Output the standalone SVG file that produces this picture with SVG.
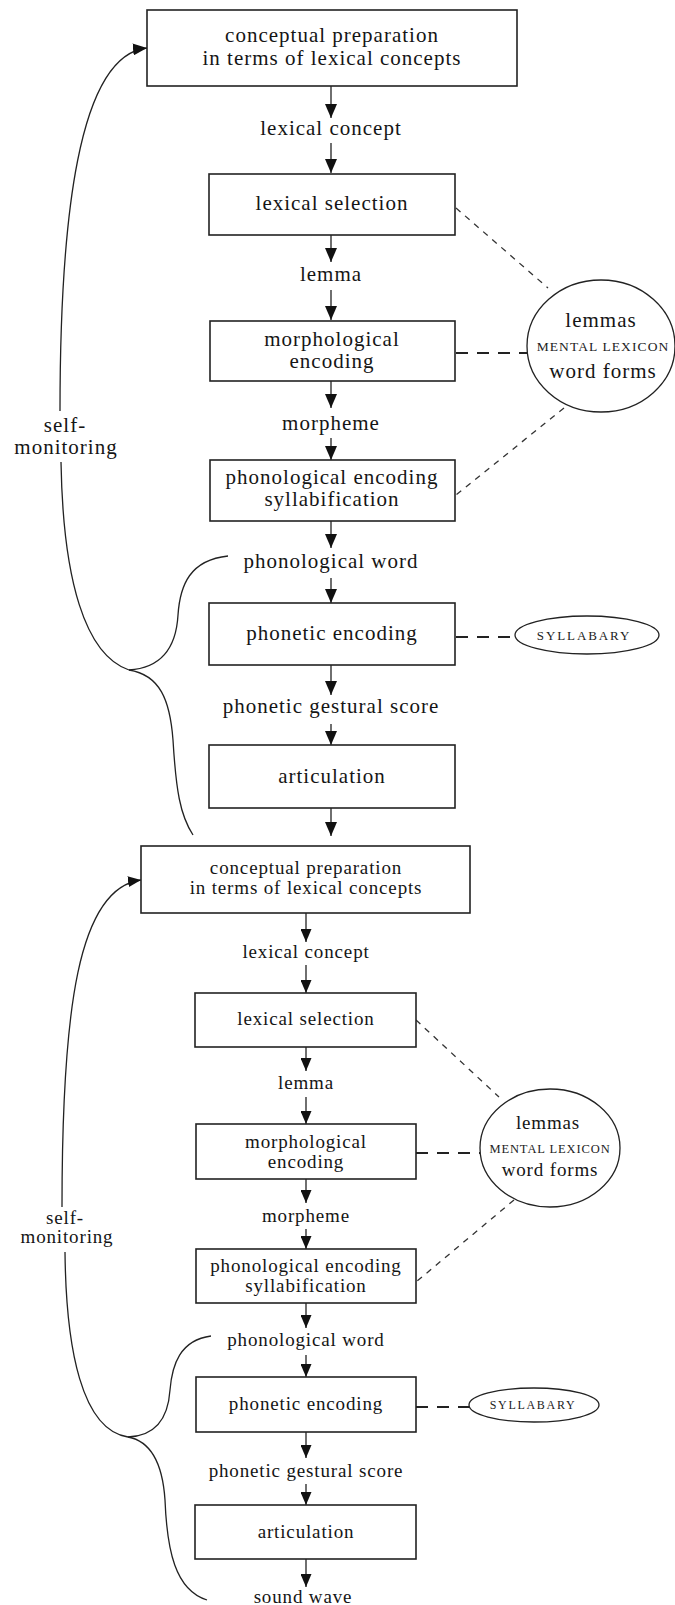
<svg xmlns="http://www.w3.org/2000/svg" width="675" height="1605" viewBox="0 0 675 1605">
<defs>
<style>
.box{fill:#fff;stroke:#222;stroke-width:1.6}
.t1{font-family:"Liberation Serif","Times New Roman",serif;font-size:21px;letter-spacing:1px;fill:#151515;text-anchor:middle}
.t2{font-family:"Liberation Serif","Times New Roman",serif;font-size:19px;letter-spacing:0.85px;fill:#151515;text-anchor:middle}
.sc1{font-family:"Liberation Serif","Times New Roman",serif;font-size:13.5px;letter-spacing:1.1px;fill:#222;text-anchor:middle}
.sc2{font-family:"Liberation Serif","Times New Roman",serif;font-size:12.5px;letter-spacing:0.9px;fill:#222;text-anchor:middle}
.sy1{font-family:"Liberation Serif","Times New Roman",serif;font-size:13px;letter-spacing:1.9px;fill:#222;text-anchor:middle}
.sy2{font-family:"Liberation Serif","Times New Roman",serif;font-size:12px;letter-spacing:1.7px;fill:#222;text-anchor:middle}
.arr1{stroke:#222;stroke-width:1.3;fill:none;marker-end:url(#ah1)}
.arr2{stroke:#222;stroke-width:1.3;fill:none;marker-end:url(#ah2)}
.curve{stroke:#222;stroke-width:1.3;fill:none}
.dash{stroke:#333;stroke-width:1.3;fill:none;stroke-dasharray:6 6}
.dashb{stroke:#222;stroke-width:2.2;fill:none;stroke-dasharray:12 9}
.lex{fill:#fff;stroke:#222;stroke-width:1.3}
</style>
<marker id="ah1" markerUnits="userSpaceOnUse" markerWidth="14" markerHeight="12" refX="14" refY="6" orient="auto">
<path d="M0,0 L14,6 L0,12 z" fill="#111"/>
</marker>
<marker id="ah2" markerUnits="userSpaceOnUse" markerWidth="13" markerHeight="11" refX="13" refY="5.5" orient="auto">
<path d="M0,0 L13,5.5 L0,11 z" fill="#111"/>
</marker>
</defs>

<g id="connectors">
<line class="arr1" x1="331" y1="86" x2="331" y2="118"/>
<line class="arr1" x1="331" y1="143" x2="331" y2="173"/>
<line class="arr1" x1="331" y1="235" x2="331" y2="262"/>
<line class="arr1" x1="331" y1="290" x2="331" y2="320"/>
<line class="arr1" x1="331" y1="381" x2="331" y2="408"/>
<line class="arr1" x1="331" y1="438" x2="331" y2="460"/>
<line class="arr1" x1="331" y1="521" x2="331" y2="548"/>
<line class="arr1" x1="331" y1="578" x2="331" y2="603"/>
<line class="arr1" x1="331" y1="665" x2="331" y2="695"/>
<line class="arr1" x1="331" y1="724" x2="331" y2="745"/>
<line class="arr1" x1="331" y1="808" x2="331" y2="836"/>
<line class="dash" x1="456" y1="208" x2="548" y2="288"/>
<line class="dashb" x1="456" y1="353" x2="527" y2="353"/>
<line class="dash" x1="564" y1="408" x2="456" y2="495"/>
<line class="dashb" x1="456" y1="637" x2="516" y2="637"/>
<path class="arr1" d="M60 411 C60 220 78 55 147 48"/>
<path class="curve" d="M61 462 C63 580 85 655 129 670"/>
<path class="curve" d="M228 556 C190 560 180 585 178 615 C176 650 160 668 129 670"/>
<path class="curve" d="M129 670 C160 675 170 700 173 740 C176 790 180 815 193 835"/>
<line class="arr2" x1="306" y1="913" x2="306" y2="942"/>
<line class="arr2" x1="306" y1="965" x2="306" y2="993"/>
<line class="arr2" x1="306" y1="1047" x2="306" y2="1071"/>
<line class="arr2" x1="306" y1="1097" x2="306" y2="1124"/>
<line class="arr2" x1="306" y1="1179" x2="306" y2="1203"/>
<line class="arr2" x1="306" y1="1229" x2="306" y2="1249"/>
<line class="arr2" x1="306" y1="1303" x2="306" y2="1328"/>
<line class="arr2" x1="306" y1="1355" x2="306" y2="1377"/>
<line class="arr2" x1="306" y1="1432" x2="306" y2="1458"/>
<line class="arr2" x1="306" y1="1484" x2="306" y2="1505"/>
<line class="arr2" x1="306" y1="1559" x2="306" y2="1587"/>
<line class="dash" x1="416" y1="1020" x2="499" y2="1097"/>
<line class="dashb" x1="416" y1="1153" x2="480" y2="1153"/>
<line class="dash" x1="514" y1="1200" x2="416" y2="1282"/>
<line class="dashb" x1="416" y1="1407" x2="470" y2="1407"/>
<path class="arr2" d="M62 1207 C62 1010 78 888 141 880"/>
<path class="curve" d="M65 1252 C66 1350 82 1430 128 1437"/>
<path class="curve" d="M211 1336 C180 1340 172 1365 170 1390 C168 1420 155 1436 128 1437"/>
<path class="curve" d="M128 1437 C155 1442 163 1470 165 1500 C167 1550 175 1590 207 1600"/>
</g>

<g id="concept1"><rect class="box" x="147" y="10" width="370" height="76"/><text class="t1" x="332" y="42">conceptual preparation</text><text class="t1" x="332" y="65">in terms of lexical concepts</text></g>
<g id="lexconcept1"><text class="t1" x="331" y="135">lexical concept</text></g>
<g id="lexsel1"><rect class="box" x="209" y="174" width="246" height="61"/><text class="t1" x="332" y="210">lexical selection</text></g>
<g id="lemma1"><text class="t1" x="331" y="281">lemma</text></g>
<g id="morph1"><rect class="box" x="210" y="321" width="245" height="60"/><text class="t1" x="332" y="346">morphological</text><text class="t1" x="332" y="368">encoding</text></g>
<g id="morpheme1"><text class="t1" x="331" y="430">morpheme</text></g>
<g id="phono1"><rect class="box" x="210" y="460" width="245" height="61"/><text class="t1" x="332" y="484">phonological encoding</text><text class="t1" x="332" y="506">syllabification</text></g>
<g id="phonword1"><text class="t1" x="331" y="568">phonological word</text></g>
<g id="phonetic1"><rect class="box" x="209" y="603" width="246" height="62"/><text class="t1" x="332" y="640">phonetic encoding</text></g>
<g id="gestural1"><text class="t1" x="331" y="713">phonetic gestural score</text></g>
<g id="artic1"><rect class="box" x="209" y="745" width="246" height="63"/><text class="t1" x="332" y="783">articulation</text></g>
<g id="lexicon1"><ellipse class="lex" cx="601" cy="346" rx="74" ry="66"/><text class="t1" x="601" y="327">lemmas</text><text class="sc1" x="603" y="351">MENTAL LEXICON</text><text class="t1" x="603" y="378">word forms</text></g>
<g id="syllabary1"><ellipse class="lex" cx="587" cy="635" rx="72" ry="19"/><text class="sy1" x="584" y="640">SYLLABARY</text></g>
<g id="selfmon1"><text class="t1" x="65" y="432">self-</text><text class="t1" x="66" y="454">monitoring</text></g>

<g id="concept2"><rect class="box" x="141" y="846" width="329" height="67"/><text class="t2" x="306" y="874">conceptual preparation</text><text class="t2" x="306" y="894">in terms of lexical concepts</text></g>
<g id="lexconcept2"><text class="t2" x="306" y="958">lexical concept</text></g>
<g id="lexsel2"><rect class="box" x="195" y="993" width="221" height="54"/><text class="t2" x="306" y="1025">lexical selection</text></g>
<g id="lemma2"><text class="t2" x="306" y="1089">lemma</text></g>
<g id="morph2"><rect class="box" x="196" y="1124" width="220" height="55"/><text class="t2" x="306" y="1148">morphological</text><text class="t2" x="306" y="1168">encoding</text></g>
<g id="morpheme2"><text class="t2" x="306" y="1222">morpheme</text></g>
<g id="phono2"><rect class="box" x="196" y="1249" width="220" height="54"/><text class="t2" x="306" y="1272">phonological encoding</text><text class="t2" x="306" y="1292">syllabification</text></g>
<g id="phonword2"><text class="t2" x="306" y="1346">phonological word</text></g>
<g id="phonetic2"><rect class="box" x="196" y="1377" width="220" height="55"/><text class="t2" x="306" y="1410">phonetic encoding</text></g>
<g id="gestural2"><text class="t2" x="306" y="1477">phonetic gestural score</text></g>
<g id="artic2"><rect class="box" x="195" y="1505" width="221" height="54"/><text class="t2" x="306" y="1538">articulation</text></g>
<g id="soundwave"><text class="t2" x="303" y="1603">sound wave</text></g>
<g id="lexicon2"><ellipse class="lex" cx="550" cy="1148" rx="70" ry="59"/><text class="t2" x="548" y="1129">lemmas</text><text class="sc2" x="550" y="1153">MENTAL LEXICON</text><text class="t2" x="550" y="1176">word forms</text></g>
<g id="syllabary2"><ellipse class="lex" cx="534" cy="1405" rx="65" ry="17"/><text class="sy2" x="533" y="1409">SYLLABARY</text></g>
<g id="selfmon2"><text class="t2" x="65" y="1224">self-</text><text class="t2" x="67" y="1243">monitoring</text></g>
</svg>
